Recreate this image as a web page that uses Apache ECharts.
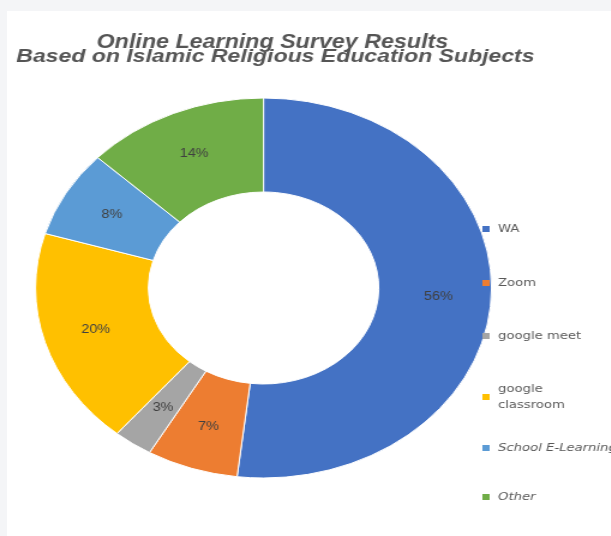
<!DOCTYPE html>
<html>
<head>
<meta charset="utf-8">
<script src="https://cdn.jsdelivr.net/npm/echarts@6/dist/echarts.min.js"></script>
<style>
  html, body { margin: 0; padding: 0; background: #f4f5f7; width: 611px; height: 536px; overflow: hidden; }
  #paper { position: absolute; left: 7px; top: 11px; width: 604px; height: 525px; background: #ffffff; }
  #chart { position: absolute; left: 0; top: 0; width: 509px; height: 536px; transform: scaleX(1.2); transform-origin: 0 0; }
</style>
</head>
<body>
<div id="paper"></div>
<div id="chart"></div>
<script>
// ---- data ----
const titleLines = ['Online Learning Survey Results', 'Based on Islamic Religious Education Subjects'];
const categories = ['WA', 'Zoom', 'google meet', 'google classroom', 'School E-Learning', 'Other'];
const values = [56, 7, 3, 20, 8, 14];
const italicLegend = ['School E-Learning', 'Other'];

// ---- styles / layout ----
const colors = ['#4472C4', '#ED7D31', '#A5A5A5', '#FFC000', '#5B9BD5', '#70AD47'];
const legendTops = [222, 276, 329, 373, 441, 490];
const legendLabels = { 'google classroom': 'google\nclassroom' };

const chart = echarts.init(document.getElementById('chart'), null, { renderer: 'canvas' });

const legends = categories.map((name, i) => {
  const twoLine = !!legendLabels[name];
  return {
    left: 402,
    top: legendTops[i],
    orient: 'vertical',
    padding: 0,
    itemWidth: 6,
    itemHeight: 6,
    icon: 'rect',
    selectedMode: false,
    itemStyle: { borderWidth: 0 },
    formatter: n => legendLabels[n] || n,
    data: [{
      name: name,
      textStyle: {
        fontStyle: italicLegend.includes(name) ? 'italic' : 'normal'
      }
    }],
    textStyle: {
      fontFamily: 'DejaVu Sans',
      fontSize: 11,
      color: '#595959',
      lineHeight: twoLine ? 16 : 14,
      padding: twoLine ? [16, 0, 0, 2] : [0, 0, 0, 2]
    }
  };
});

chart.setOption({
  animation: false,
  backgroundColor: 'transparent',
  color: colors,
  legend: legends,
  graphic: [
    {
      type: 'text', x: 227, y: 43,
      style: {
        text: titleLines[0], align: 'center', verticalAlign: 'middle',
        fontFamily: 'Liberation Sans', fontSize: 19.4, fontWeight: 'bold', fontStyle: 'italic',
        fill: '#555555'
      }
    },
    {
      type: 'text', x: 229.5, y: 57,
      style: {
        text: titleLines[1], align: 'center', verticalAlign: 'middle',
        fontFamily: 'Liberation Sans', fontSize: 19.2, fontWeight: 'bold', fontStyle: 'italic',
        fill: '#555555'
      }
    }
  ],
  series: [{
    type: 'pie',
    center: [219.6, 288],
    radius: [96, 190],
    startAngle: 90,
    clockwise: true,
    avoidLabelOverlap: false,
    itemStyle: { borderColor: '#ffffff', borderWidth: 1 },
    label: {
      show: true,
      position: 'inside',
      formatter: '{c}%',
      fontFamily: 'Liberation Sans',
      fontSize: 12,
      color: '#404040'
    },
    labelLine: { show: false },
    emphasis: { disabled: true },
    data: categories.map((name, i) => ({ name: name, value: values[i] }))
  }]
});
</script>
</body>
</html>
